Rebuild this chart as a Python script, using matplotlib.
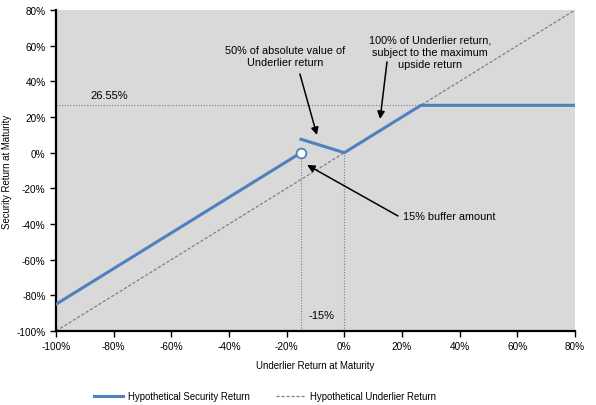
import matplotlib
matplotlib.use("Agg")
import matplotlib.pyplot as plt
from matplotlib.ticker import FuncFormatter

# payoff pieces (underlier return %, security return %)
x_down = [-100, -15]
y_down = [-85, 0]
x_buf = [-15, 0, 26.55, 80]
y_buf = [7.5, 0, 26.55, 26.55]
x_under = [-100, 80]
y_under = [-100, 80]
cap = 26.55
buffer_pt = -15

plt.rcParams['font.family'] = ['Liberation Sans', 'DejaVu Sans']

fig = plt.figure(figsize=(5.96, 4.06), dpi=100)
ax = fig.add_axes([56 / 596, 1 - 332 / 406, 519 / 596, 321 / 406])
ax.set_facecolor('#D9D9D9')

blue = '#4F81BD'
ax.plot(x_under, y_under, color='#7F7F7F', lw=0.9, ls=(0, (2.5, 1.5)),
        label='Hypothetical Underlier Return', zorder=2)
ax.plot(x_down, y_down, color=blue, lw=2.2, label='Hypothetical Security Return', zorder=3)
ax.plot(x_buf, y_buf, color=blue, lw=2.2, zorder=3)
ax.plot([buffer_pt], [0], marker='o', ms=7, mfc='white', mec=blue, mew=1.3, zorder=4)

# dotted guides
ax.plot([-100, cap], [cap, cap], color='#7F7F7F', lw=0.8, ls=(0, (1, 1.5)), zorder=1)
ax.plot([buffer_pt, buffer_pt], [-100, 0], color='#7F7F7F', lw=0.8, ls=(0, (1, 1.5)), zorder=1)
ax.plot([0, 0], [-100, 0], color='#7F7F7F', lw=0.8, ls=(0, (1, 1.5)), zorder=1)

ax.set_xlim(-100, 80)
ax.set_ylim(-100, 80)
ax.set_xticks(range(-100, 81, 20))
ax.set_yticks(range(-100, 81, 20))
pct = FuncFormatter(lambda v, p: f'{v:.0f}%')
ax.xaxis.set_major_formatter(pct)
ax.yaxis.set_major_formatter(pct)
ax.tick_params(labelsize=7.2, length=4, width=1, direction='out')

for s in ['top', 'right']:
    ax.spines[s].set_visible(False)
for s in ['left', 'bottom']:
    ax.spines[s].set_linewidth(1.6)

ax.set_xlabel('Underlier Return at Maturity', fontsize=6.9, labelpad=6)
ax.set_ylabel('Security Return at Maturity', fontsize=6.9)
ax.yaxis.set_label_coords(-44 / 519, 0.5)

ax.text(-88.2, 32.4, '26.55%', fontsize=8, va='center')
ax.text(-12.6, -91, '-15%', fontsize=8, va='center')

arr = dict(arrowstyle='-|>', color='black', lw=1.1, mutation_scale=11, shrinkA=0, shrinkB=0)
ax.text(-20.6, 54.2, '50% of absolute value of\nUnderlier return', fontsize=7.8,
        ha='center', va='center', linespacing=1.3)
ax.annotate('', xy=(-9.5, 9.9), xytext=(-15.4, 44.1), arrowprops=arr)
ax.text(29.7, 56.5, '100% of Underlier return,\nsubject to the maximum\nupside return', fontsize=7.8,
        ha='center', va='center', linespacing=1.3)
ax.annotate('', xy=(12.4, 18.9), xytext=(14.8, 50.9), arrowprops=arr)
ax.text(20.4, -35.5, '15% buffer amount', fontsize=7.8, ha='left', va='center')
ax.annotate('', xy=(-12.9, -6.9), xytext=(18.6, -35.5), arrowprops=arr)

handles, labels = ax.get_legend_handles_labels()
fig.legend(handles[::-1], labels[::-1], loc='center', bbox_to_anchor=(265 / 596, 1 - 397 / 406),
           ncol=2, frameon=False, fontsize=6.9, handlelength=3, handletextpad=0.5,
           columnspacing=2.8)

fig.savefig('out.png', dpi=100)
